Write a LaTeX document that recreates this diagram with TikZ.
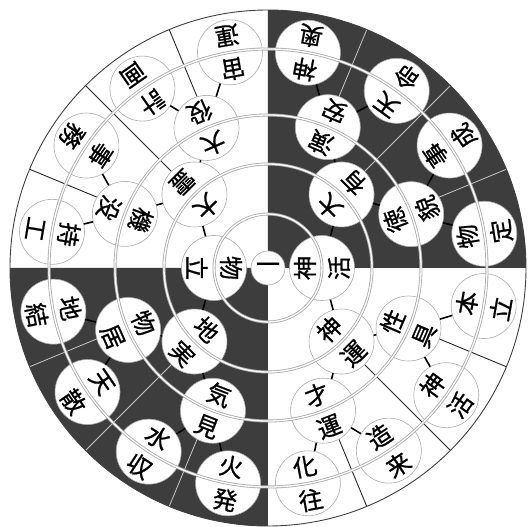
\documentclass[tikz,border=0pt]{standalone}
\usepackage{fontspec}
\newfontfamily\jp[FakeBold=0.8]{Noto Sans CJK JP}
\begin{document}
\begin{tikzpicture}[x=1pt,y=1pt,
  nodecirc/.style={circle, draw=gray!65, line width=0.6pt, fill=white, minimum size=65pt, inner sep=0pt},
  centercirc/.style={circle, draw=gray!65, line width=0.6pt, fill=white, minimum size=34pt, inner sep=0pt},
  glyph/.style={font=\jp\fontsize{24}{24}\selectfont, inner sep=0pt},
  conn/.style={line width=1.6pt, black},
  divw/.style={line width=0.9pt, black!85},
  divd/.style={line width=0.8pt, gray!45},
  ringout/.style={line width=3.0pt, gray!65},
  ringin/.style={line width=1.3pt, white},
  rim/.style={line width=0.9pt, black!75}]
\useasboundingbox (-268,-259) rectangle (263,268);
\fill[white] (-268,-259) rectangle (263,268);
% dark quadrants
\fill[black!76] (0,0) -- (0:258) arc[start angle=0,end angle=90,radius=258] -- cycle;
\fill[black!76] (0,0) -- (180:258) arc[start angle=180,end angle=270,radius=258] -- cycle;
% radial dividers
\foreach \a in {112.5,157.5,292.5,337.5} \draw[divw] (\a:258) -- (\a:153);
\foreach \a in {135,315} \draw[divw] (\a:258) -- (\a:104);
\foreach \a in {22.5,67.5,202.5,247.5} \draw[divd] (\a:258) -- (\a:153);
\foreach \a in {45,225} \draw[divd] (\a:258) -- (\a:104);
% node circles
\node[centercirc] (o) at (0,0) {};
\foreach \n/\a/\r in {
  l1w/180/54, l1e/0/54,
  tl2/135/104, tr2/45/104, bl2/225/104, br2/315/104,
  tl3a/113.7/153, tl3b/159.3/153, tr3a/67/153, tr3b/20.6/153,
  bl3a/203.9/153, bl3b/248.9/153, br3a/336.7/153, br3b/291.1/153,
  tl4a/100/219, tl4b/125/219, tl4c/146/219, tl4d/170.5/219,
  tr4a/79.5/219, tr4b/54/219, tr4c/34/219, tr4d/9/219,
  bl4a/191.5/219, bl4b/214.5/219, bl4c/237/219, bl4d/259.5/219,
  br4a/350/219, br4b/324.5/219, br4c/303.5/219, br4d/280.5/219}
  \node[nodecirc] (\n) at (\a:\r) {};
% connectors
\foreach \p/\q in {l1w/tl2, l1w/bl2, l1e/tr2, l1e/br2,
  tl2/tl3a, tl2/tl3b, tr2/tr3a, tr2/tr3b, bl2/bl3a, bl2/bl3b, br2/br3a, br2/br3b,
  tl3a/tl4a, tl3a/tl4b, tl3b/tl4c, tl3b/tl4d,
  tr3a/tr4a, tr3a/tr4b, tr3b/tr4c, tr3b/tr4d,
  bl3a/bl4a, bl3a/bl4b, bl3b/bl4c, bl3b/bl4d,
  br3a/br4a, br3a/br4b, br3b/br4c, br3b/br4d}
  \draw[conn] (\p) -- (\q);
% double rings
\foreach \r in {54,104,153,219} {
  \draw[ringout] (0,0) circle[radius=\r];
  \draw[ringin] (0,0) circle[radius=\r];
}
\draw[rim] (0,0) circle[radius=258];
% texts
\node[glyph] (o-t) at (o) {一};
\foreach \n/\a/\r/\ci/\co in {
  l1w/180/54/物/立, l1e/0/54/神/活,
  tl2/135/104/大/霊, tr2/45/104/大/有, bl2/225/104/地/実, br2/315/104/神/運,
  tl3a/113.7/153/大/役, tl3b/159.3/153/機/没, tr3a/67/153/演/安, tr3b/20.6/153/徳/貌,
  bl3a/203.9/153/物/居, bl3b/248.9/153/気/見, br3a/336.7/153/性/具, br3b/291.1/153/才/運,
  tl4a/100/219/宙/運, tl4b/125/219/計/画, tl4c/146/219/事/務, tl4d/170.5/219/持/工,
  tr4a/79.5/219/神/奥, tr4b/54/219/天/命, tr4c/34/219/事/成, tr4d/9/219/物/定,
  bl4a/191.5/219/地/結, bl4b/214.5/219/天/散, bl4c/237/219/水/収, bl4d/259.5/219/火/発,
  br4a/350/219/本/立, br4b/324.5/219/神/活, br4c/303.5/219/造/来, br4d/280.5/219/化/往}
{
  \node[glyph, rotate={\a+90}] (\n-i) at ({\a}:{\r-17}) {\ci};
  \node[glyph, rotate={\a+90}] (\n-o) at ({\a}:{\r+17}) {\co};
}
\end{tikzpicture}
\end{document}
